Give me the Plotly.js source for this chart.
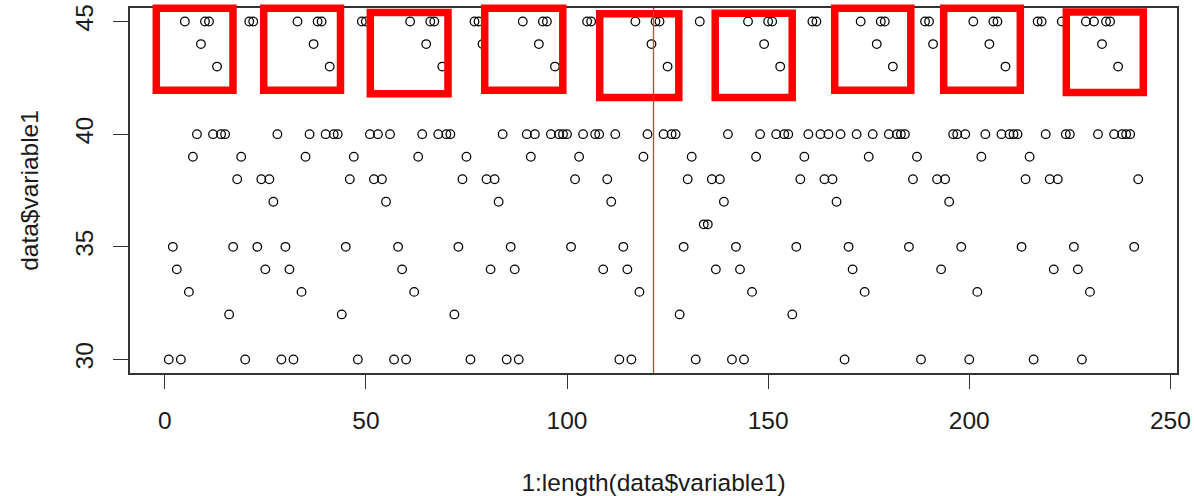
<!DOCTYPE html>
<html>
<head>
<meta charset="utf-8">
<script src="https://cdn.plot.ly/plotly-3.0.1.min.js"></script>
<style>
html,body{margin:0;padding:0;background:#ffffff;}
#chart{width:1194px;height:496px;}
</style>
</head>
<body>
<div id="chart"></div>
<script>
// ---- data ----
const variable1 = [
  30,35,34,30,45,33,39,40,44,45,45,40,43,40,40,32,35,38,39,30,45,45,35,38,34,38,37,40,
  30,35,34,30,45,33,39,40,44,45,45,40,43,40,40,32,35,38,39,30,45,45,40,38,40,38,37,40,
  30,35,34,30,45,33,39,40,44,45,45,40,43,40,40,32,35,38,39,30,45,45,44,38,34,38,37,40,
  30,35,34,30,45,40,39,40,44,45,45,40,43,40,40,40,35,38,39,40,45,45,40,40,34,38,37,40,
  30,35,34,30,45,33,39,40,44,45,45,40,43,40,40,32,35,38,39,30,45,36,36,38,34,38,37,40,
  30,35,34,30,45,33,39,40,44,45,45,40,43,40,40,32,35,38,39,40,45,45,40,38,40,38,37,40,
  30,35,34,40,45,33,39,40,44,45,45,40,43,40,40,40,35,38,39,30,45,45,44,38,34,38,37,40,
  40,35,40,30,45,33,39,40,44,45,45,40,43,40,40,40,35,38,39,30,45,45,40,38,34,38,45,40,
  40,35,34,30,45,33,45,40,44,45,45,40,43,40,40,40,35,38
];
const xTickVals = [0, 50, 100, 150, 200, 250];
const yTickVals = [30, 35, 40, 45];
const splitLine = 121.5;

// highlight rectangles drawn over the chart: [x0, x1, y0, y1] in data units
const highlightBoxes = [
  [-2.10, 16.96, 41.95, 45.59],
  [24.60, 43.69, 41.95, 45.59],
  [51.10, 70.41, 41.79, 45.40],
  [79.54, 98.95, 41.95, 45.59],
  [108.13, 127.79, 41.63, 45.35],
  [136.84, 155.98, 41.63, 45.37],
  [166.55, 185.46, 41.95, 45.59],
  [193.64, 212.69, 41.95, 45.59],
  [224.12, 243.26, 41.85, 45.42]
];

// ---- chart ----
const n = variable1.length;
const idx = [];
for (let i = 1; i <= n; i++) idx.push(i);

// R-style 4% axis extension
const xPad = 0.04 * (n - 1);
const xRange = [1 - xPad, n + xPad];
const yMin = Math.min(...variable1), yMax = Math.max(...variable1);
const yPad = 0.04 * (yMax - yMin);
const yRange = [yMin - yPad, yMax + yPad];

const px = v => (v - xRange[0]) / (xRange[1] - xRange[0]);
const py = v => (v - yRange[0]) / (yRange[1] - yRange[0]);

const FONT = 'Liberation Sans, Arial, Helvetica, sans-serif';
const INK = '#1a1a1a';
const AXC = '#333333';

const shapes = highlightBoxes.map(b => ({
  type: 'rect', xref: 'paper', yref: 'paper',
  x0: px(b[0]), x1: px(b[1]), y0: py(b[2]), y1: py(b[3]),
  line: {color: '#ff0000', width: 7.5}, fillcolor: 'rgba(0,0,0,0)', layer: 'above'
}));
shapes.push({
  type: 'line', xref: 'paper', yref: 'paper',
  x0: px(splitLine), x1: px(splitLine), y0: 0, y1: 1,
  line: {color: '#ff2a2a', width: 1.3}, layer: 'above'
});

const trace = {
  x: idx, y: variable1, type: 'scatter', mode: 'markers',
  marker: {symbol: 'circle-open', size: 8.6, color: '#000000', line: {width: 1.25, color: '#000000'}},
  hoverinfo: 'x+y'
};

const layout = {
  width: 1194, height: 496,
  margin: {l: 130, r: 17, t: 8, b: 123, pad: 0},
  paper_bgcolor: '#ffffff', plot_bgcolor: '#ffffff',
  showlegend: false,
  font: {family: FONT, size: 24.5, color: INK},
  xaxis: {
    range: xRange, tickmode: 'array', tickvals: xTickVals, ticktext: xTickVals.map(String),
    ticks: 'outside', ticklen: 14, tickwidth: 1.3, tickcolor: AXC,
    showgrid: false, zeroline: false, showline: true, mirror: true,
    linecolor: AXC, linewidth: 1.5,
    tickfont: {family: FONT, size: 24.5, color: INK},
    ticklabelstandoff: 11,
    automargin: false,
    title: {text: '1:length(data$variable1)', font: {family: FONT, size: 24.5, color: INK}, standoff: 41}
  },
  yaxis: {
    range: yRange, tickmode: 'array', tickvals: yTickVals, ticktext: yTickVals.map(String),
    tickangle: -90,
    ticks: 'outside', ticklen: 15, tickwidth: 1.3, tickcolor: AXC,
    showgrid: false, zeroline: false, showline: true, mirror: true,
    linecolor: AXC, linewidth: 1.5,
    tickfont: {family: FONT, size: 24.5, color: INK},
    ticklabelstandoff: 10,
    automargin: false,
    title: {text: 'data$variable1', font: {family: FONT, size: 24.5, color: INK}, standoff: 26}
  },
  shapes: shapes
};

Plotly.newPlot('chart', [trace], layout, {displayModeBar: false, responsive: false, staticPlot: false});
</script>
</body>
</html>
